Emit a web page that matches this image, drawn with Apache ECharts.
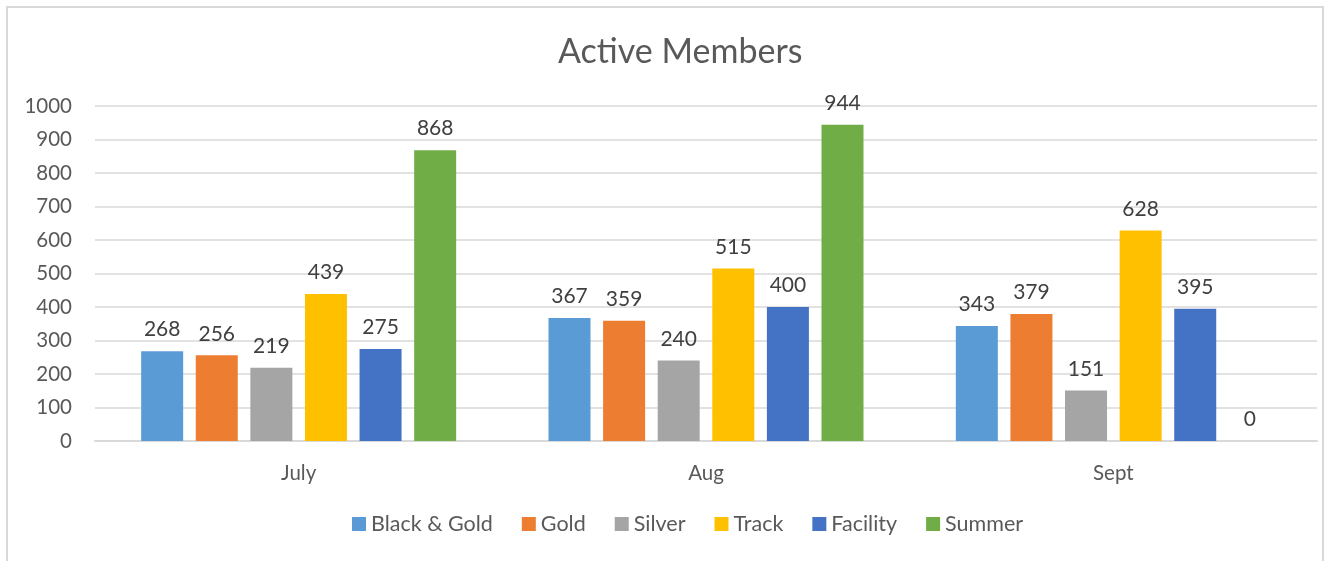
<!DOCTYPE html>
<html>
<head>
<meta charset="utf-8">
<script src="https://cdn.jsdelivr.net/npm/echarts@6/dist/echarts.min.js"></script>
<style>
  html, body { margin: 0; padding: 0; background: #fff; }
  #frame { position: absolute; left: 6px; top: 6px; width: 1318px; height: 570px; border: 2px solid #d9d9d9; box-sizing: border-box; }
  #chart { position: absolute; left: 0; top: 0; width: 1331px; height: 561px; }
</style>
</head>
<body>
<div id="frame"></div>
<div id="chart"></div>
<script>
const months = ["July", "Aug", "Sept"];
const seriesNames = ["Black & Gold", "Gold", "Silver", "Track", "Facility", "Summer"];
const blackGold = [268, 367, 343];
const gold = [256, 359, 379];
const silver = [219, 240, 151];
const track = [439, 515, 628];
const facility = [275, 400, 395];
const summer = [868, 944, 0];
const colors = ["#5b9bd5", "#ed7d31", "#a5a5a5", "#ffc000", "#4472c4", "#70ad47"];

const allData = [blackGold, gold, silver, track, facility, summer];
const font = "Lato, 'Open Sans', sans-serif";

const chart = echarts.init(document.getElementById("chart"));
const option = {
  animation: false,
  color: colors,
  title: {
    text: "Active Members",
    left: 553,
    top: 30,
    textStyle: { fontFamily: font, fontSize: 34, fontWeight: "normal", color: "#595959" }
  },
  grid: { left: 95, right: 14, top: 106, bottom: 120 },
  legend: {
    bottom: 21,
    left: 347,
    itemWidth: 14,
    itemHeight: 14,
    itemGap: 29,
    icon: "rect",
    textStyle: { fontFamily: font, fontSize: 21.5, color: "#595959" },
    data: seriesNames
  },
  xAxis: {
    type: "category",
    data: months,
    axisLine: { lineStyle: { color: "#d9d9d9", width: 2 } },
    axisTick: { show: false },
    axisLabel: { fontFamily: font, fontSize: 20.5, color: "#595959", margin: 22 }
  },
  yAxis: {
    type: "value",
    min: 0,
    max: 1000,
    interval: 100,
    axisLine: { show: false },
    axisTick: { show: false },
    splitLine: { lineStyle: { color: "#d9d9d9", width: 1.5 } },
    axisLabel: { fontFamily: font, fontSize: 20.5, color: "#595959", margin: 23, formatter: v => String(v) }
  },
  series: seriesNames.map((name, i) => ({
    name: name,
    type: "bar",
    data: allData[i],
    barWidth: 42,
    barGap: "30%",
    barCategoryGap: "22%",
    label: {
      show: true,
      position: "top",
      distance: 11,
      fontFamily: font,
      fontSize: 21,
      color: "#404040"
    }
  }))
};
chart.setOption(option);
</script>
</body>
</html>
